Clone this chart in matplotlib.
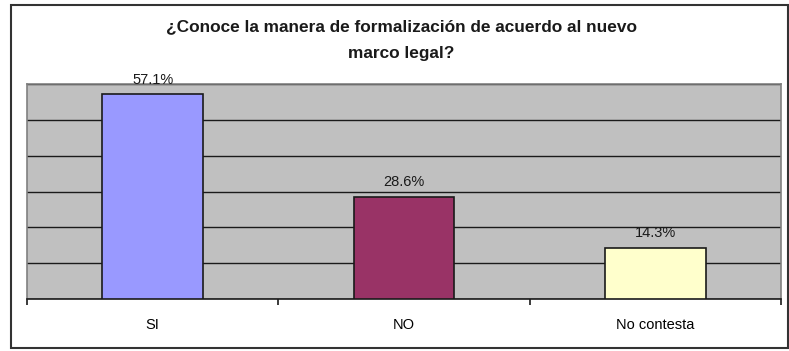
import matplotlib
matplotlib.use("Agg")
import matplotlib.pyplot as plt
from matplotlib.patches import Rectangle

categories = ["SI", "NO", "No contesta"]
values = [0.571, 0.286, 0.143]
value_labels = ["57.1%", "28.6%", "14.3%"]
colors = ["#9999FF", "#993366", "#FFFFCC"]
title = "¿Conoce la manera de formalización de acuerdo al nuevo\nmarco legal?"

plt.rcParams['font.family'] = ['Liberation Sans', 'DejaVu Sans']

W, H = 789, 351
fig = plt.figure(figsize=(W / 100, H / 100), dpi=100)
fig.patch.set_facecolor("white")

# outer chart border
fig.patches.append(Rectangle((11 / W, 3 / H), 777 / W, 343 / H, transform=fig.transFigure,
                             fill=False, edgecolor="#333333", linewidth=1.5))

ax = fig.add_axes([27 / W, (H - 299) / H, (781 - 27) / W, (299 - 84) / H])
ax.set_facecolor("#C0C0C0")
x = list(range(len(categories)))
ax.bar(x, values, width=0.4, color=colors, edgecolor="#1a1a1a", linewidth=1.2, zorder=3)
ax.set_xlim(-0.5, 2.5)
ax.set_ylim(0, 0.6)
ax.set_yticks([i / 10 for i in range(7)])
ax.yaxis.grid(True, color="#1a1a1a", linewidth=1.0, zorder=0)
ax.set_axisbelow(True)
ax.tick_params(axis="y", left=False, labelleft=False)
ax.set_xticks(x)
ax.set_xticklabels(categories, fontsize=10.5)
ax.tick_params(axis="x", length=0, pad=14)
ax.set_xticks([-0.5, 0.5, 1.5, 2.5], minor=True)
ax.tick_params(axis="x", which="minor", length=4, width=1.2, color="#1a1a1a", direction="out")
for s in ["top", "right", "left"]:
    ax.spines[s].set_color("#808080")
    ax.spines[s].set_linewidth(1.2)
ax.spines["bottom"].set_color("#1a1a1a")
ax.spines["bottom"].set_linewidth(1.2)

for xi, v, lab in zip(x, values, value_labels):
    ax.annotate(lab, (xi, v), xytext=(0, 10.5), textcoords="offset points",
                ha="center", va="center", fontsize=10.5, color="#1a1a1a", zorder=4)

fig.text(401 / W, 1 - 40 / H, title, ha="center", va="center", fontsize=12.4,
         fontweight="bold", linespacing=2.05, color="#1a1a1a")

fig.savefig("out.png", dpi=100)
